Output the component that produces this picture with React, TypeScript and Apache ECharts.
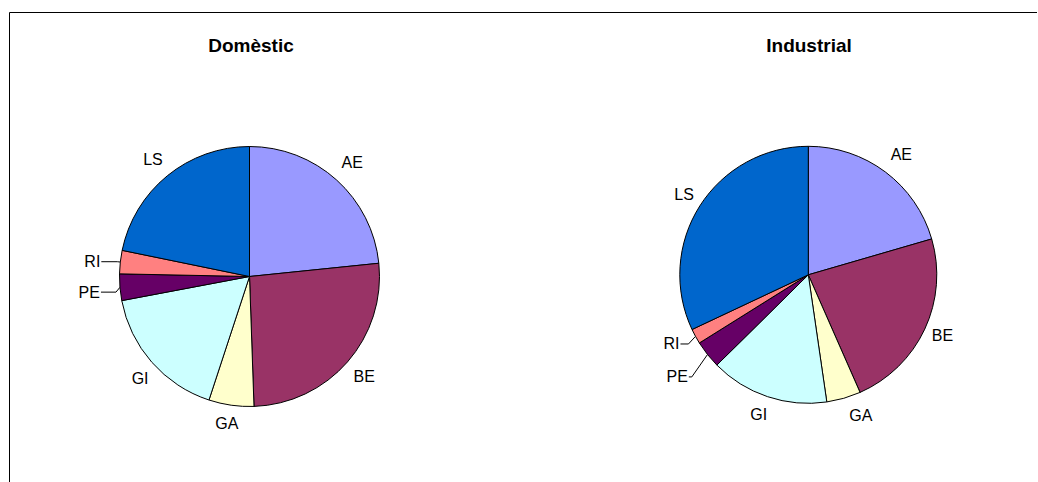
import React, { useEffect, useRef } from "react";
import * as echarts from "echarts";

const categories = ["AE", "BE", "GA", "GI", "PE", "RI", "LS"];
const domesticValues = [23.4, 26.1, 5.6, 17.0, 3.3, 2.9, 21.8];
const industrialValues = [20.5, 22.9, 4.3, 14.9, 3.5, 1.9, 32.0];
const sliceColors = ["#9999FF", "#993366", "#FFFFCC", "#CCFFFF", "#660066", "#FF8080", "#0066CC"];
const chartTitles = ["Domèstic", "Industrial"];

// label placement tweaks per slice: [radial length, horizontal length, distance, vertical shift, show line]
const domesticLabelTweaks: [number, number, number, number, boolean][] = [
  [23.6, 0, -10.9, 0, false],
  [22, 0, -10.5, 0, false],
  [18.5, 0, -9.9, 0, false],
  [24.8, 0, -15.4, 0, false],
  [4, 15, 1, 4.5, true],
  [3, 16, 1, 0, true],
  [21, 0, -8.7, 0, false],
];
const industrialLabelTweaks: [number, number, number, number, boolean][] = [
  [22.2, 0, -8.1, 0, false],
  [15.2, 0, -6.7, 0, false],
  [17.7, 0, 0.7, 0, false],
  [18.7, 0, -5.7, 0, false],
  [20, 3, 1, 10, true],
  [8, 8, 1, 3.8, true],
  [22.1, 0, -12.8, 0, false],
];

const FONT = '"Liberation Sans", Arial, sans-serif';

type Tweak = [number, number, number, number, boolean];

function buildData(values: number[], tweaks: Tweak[]) {
  return values.map((v, i) => {
    const [len, len2, dist, , showLine] = tweaks[i];
    return {
      name: categories[i],
      value: v,
      itemStyle: { color: sliceColors[i] },
      label: { distanceToLabelLine: dist },
      labelLine: { show: showLine, length: len, length2: len2 },
    };
  });
}

function pieSeries(values: number[], tweaks: Tweak[], center: number[], radius: number) {
  return {
    type: "pie",
    center,
    radius,
    startAngle: 90,
    clockwise: true,
    avoidLabelOverlap: false,
    silent: true,
    itemStyle: { borderColor: "#000", borderWidth: 1 },
    label: {
      show: true,
      position: "outside",
      formatter: "{b}",
      color: "#000",
      fontFamily: FONT,
      fontSize: 16,
      alignTo: "none",
    },
    labelLine: {
      lineStyle: { color: "#000", width: 1 },
      smooth: false,
    },
    labelLayout: (params: any) => {
      const shift = tweaks[params.dataIndex] ? tweaks[params.dataIndex][3] : 0;
      if (!shift) return {};
      const pts = params.labelLinePoints;
      const out: any = { dy: shift };
      if (pts && pts.length === 3) {
        out.labelLinePoints = [
          [pts[0][0], pts[0][1]],
          [pts[1][0], pts[1][1] + shift],
          [pts[2][0], pts[2][1] + shift],
        ];
      }
      return out;
    },
    emphasis: { disabled: true },
    data: buildData(values, tweaks),
  };
}

export default function App() {
  const ref = useRef<HTMLDivElement>(null);
  useEffect(() => {
    if (!ref.current) return;
    const chart = echarts.init(ref.current, undefined, { renderer: "svg" });
    chart.setOption({
      animation: false,
      backgroundColor: "#fff",
      title: [
        {
          text: chartTitles[0],
          left: 251,
          top: 45,
          padding: 0,
          textAlign: "center",
          textVerticalAlign: "middle",
          textStyle: { fontFamily: FONT, fontSize: 19, fontWeight: "bold", color: "#000" },
        },
        {
          text: chartTitles[1],
          left: 809,
          top: 45,
          padding: 0,
          textAlign: "center",
          textVerticalAlign: "middle",
          textStyle: { fontFamily: FONT, fontSize: 19, fontWeight: "bold", color: "#000" },
        },
      ],
      graphic: [
        {
          type: "line",
          silent: true,
          shape: { x1: 9.5, y1: 12.5, x2: 1037, y2: 12.5 },
          style: { stroke: "#000", lineWidth: 1 },
        },
        {
          type: "line",
          silent: true,
          shape: { x1: 9.5, y1: 12.5, x2: 9.5, y2: 482 },
          style: { stroke: "#000", lineWidth: 1 },
        },
      ],
      series: [
        pieSeries(domesticValues, domesticLabelTweaks, [249.5, 276.5], 130),
        pieSeries(industrialValues, industrialLabelTweaks, [808.3, 274.8], 128.5),
      ],
    });
    return () => chart.dispose();
  }, []);
  return (
    <div
      ref={ref}
      style={{ position: "absolute", left: 0, top: 0, width: 1038, height: 482, background: "#fff" }}
    />
  );
}
